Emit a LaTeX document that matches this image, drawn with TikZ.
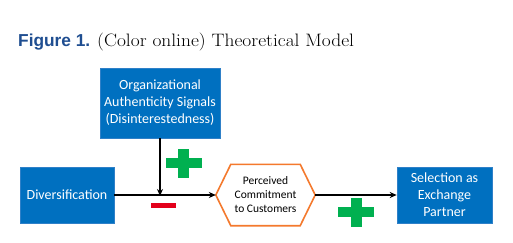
\documentclass[tikz,border=0pt]{standalone}
\usepackage{fontspec}
\setmainfont{Latin Modern Roman}
\newfontfamily\titlefont[FakeStretch=1.08]{Latin Modern Roman}
\newfontfamily\boxfont{Carlito}
\newfontfamily\capfont{Liberation Sans}
\usetikzlibrary{arrows.meta,calc}
\definecolor{boxblue}{HTML}{0070C0}
\definecolor{boxedge}{HTML}{2F80C8}
\definecolor{capblue}{HTML}{1F4E91}
\definecolor{plusgreen}{HTML}{00B050}
\definecolor{minusred}{HTML}{E3001B}
\definecolor{hexorange}{HTML}{F4792D}
\tikzset{
  construct/.style={fill=boxblue, draw=boxedge, line width=0.6pt, text=white,
    font=\boxfont\fontsize{14}{17}\selectfont, align=center, inner sep=0pt},
  hexbox/.style={inner sep=0pt, align=center,
    font=\boxfont\fontsize{11.5}{14}\selectfont},
  link/.style={draw=black, line width=1.4pt, -{Stealth[length=7pt,width=6pt]}},
  hexline/.style={draw=hexorange, line width=1.6pt, line join=miter},
}
\begin{document}
\begin{tikzpicture}[x=1pt,y=-1pt]
  \useasboundingbox (0,0) rectangle (513,243);
  \fill[white] (0,0) rectangle (513,243);

  % caption
  \node[anchor=base west, inner sep=0pt, text=capblue,
        font=\capfont\bfseries\fontsize{17.3}{20}\selectfont] (figlabel) at (18,47) {Figure 1.};
  \node[anchor=base west, inner sep=0pt,
        font=\titlefont\fontsize{18}{21}\selectfont] (figtitle) at (97,47) {(Color online) Theoretical Model};

  % constructs
  \node[construct, minimum width=120pt, minimum height=70pt] (org) at (160,103)
    {Organizational\\Authenticity Signals\\(Disinterestedness)};
  \node[construct, minimum width=94pt, minimum height=56pt] (div) at (67,195) {Diversification};
  \node[construct, minimum width=95pt, minimum height=56pt] (sel) at (444.5,195)
    {Selection as\\Exchange\\Partner};

  % mediator (hexagon outline drawn around the node)
  \node[hexbox, minimum width=99pt, minimum height=61pt] (pcc) at (265.5,195)
    {Perceived\\Commitment\\to Customers};
  \draw[hexline] (pcc.west) -- ($(pcc.north west)+(15,0)$) -- ($(pcc.north east)+(-15,0)$)
    -- (pcc.east) -- ($(pcc.south east)+(-15,0)$) -- ($(pcc.south west)+(15,0)$) -- cycle;

  % paths
  \draw[link] (div.east) -- (pcc.west);
  \draw[link] (pcc.east) -- (sel.west);
  \coordinate (mod) at (org.south |- div.east);
  \draw[link] (org.south) -- ([yshift=-1pt]mod);

  % signs
  \coordinate (plusA) at (183.5,163);
  \coordinate (plusB) at (356,212);
  \coordinate (minusA) at (163.5,205);
  \foreach \c in {plusA,plusB}{
    \fill[plusgreen] ($(\c)+(-18,-5)$) rectangle ($(\c)+(18,5)$);
    \fill[plusgreen] ($(\c)+(-5.5,-14.5)$) rectangle ($(\c)+(5.5,14.5)$);
  }
  \fill[minusred] ($(minusA)+(-12.5,-2.5)$) rectangle ($(minusA)+(12.5,2.5)$);
\end{tikzpicture}
\end{document}
